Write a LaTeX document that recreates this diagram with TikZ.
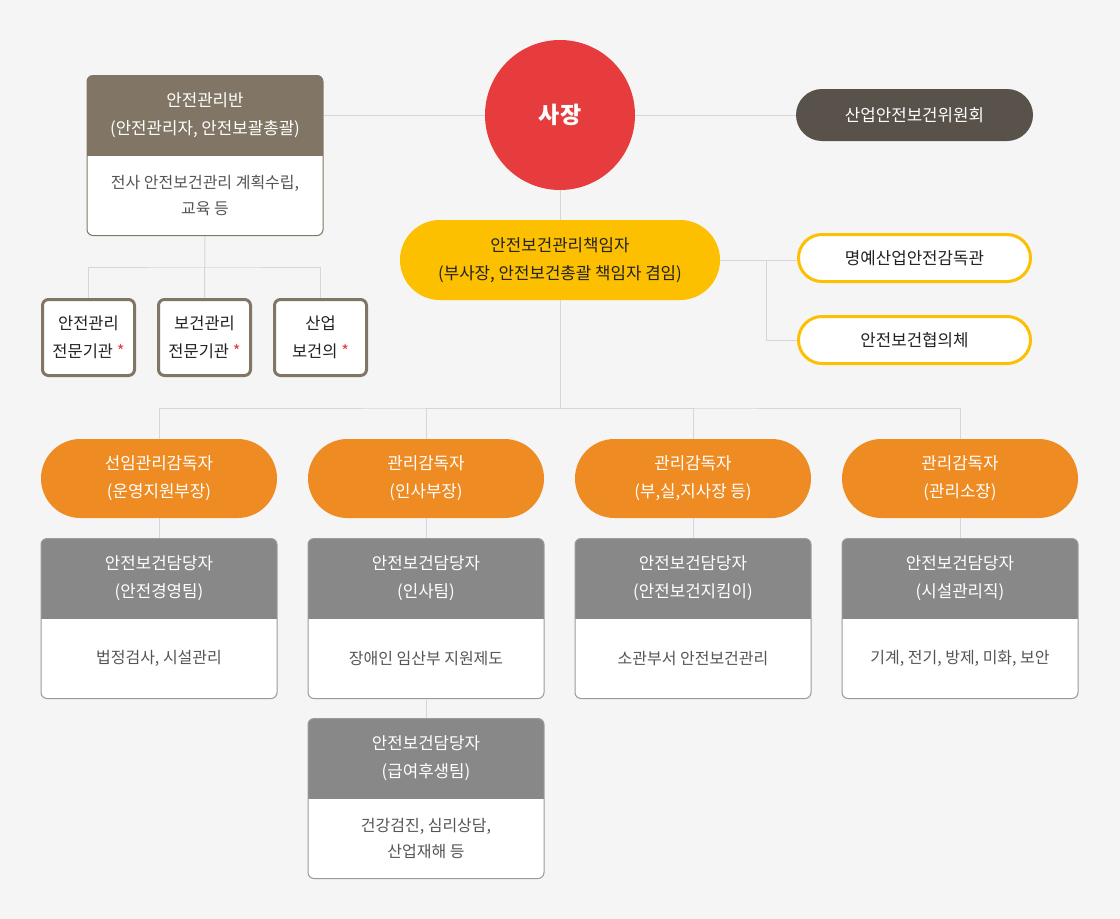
\documentclass[tikz,border=0pt]{standalone}
\usepackage{fontspec}
\setmainfont{Noto Sans CJK KR}
\usetikzlibrary{shapes.misc}
\definecolor{cbg}{HTML}{F5F5F5}
\definecolor{cred}{HTML}{E63C3D}
\definecolor{cbrown}{HTML}{817665}
\definecolor{cdark}{HTML}{58524A}
\definecolor{cyellow}{HTML}{FCC000}
\definecolor{corange}{HTML}{EE8B22}
\definecolor{cgrey}{HTML}{888888}
\definecolor{cline}{HTML}{D6D6D6}
\definecolor{ctext}{HTML}{555555}
\definecolor{cink}{HTML}{222222}

\begin{document}
\begin{tikzpicture}[x=1pt, y=-1pt,
  link/.style={draw=cline, line width=1pt},
  card/.style={rectangle, rounded corners=6pt, fill=white, line width=1pt,
    minimum width=236pt, minimum height=160pt, inner sep=0pt,
    path picture={\fill[#1, sharp corners] (path picture bounding box.north west) rectangle ([yshift=-80pt]path picture bounding box.north east);}},
  hdr/.style={text=white, align=center, font=\fontsize{16.8}{28}\selectfont},
  body/.style={text=ctext, align=center, font=\fontsize{16}{26}\selectfont},
  pill/.style={rounded rectangle, inner sep=0pt, align=center, font=\fontsize{16.8}{28}\selectfont},
  org/.style={rectangle, rounded corners=6pt, draw=cbrown, line width=3pt, fill=white,
    minimum width=92pt, minimum height=76pt, inner sep=0pt, align=center, text=cink,
    font=\fontsize{16.5}{28}\selectfont}]

  \fill [cbg] (0, 0) rectangle (1120, 919);

  % top row
  \node [card=cbrown, draw=cbrown] (safe) at (205, 155.5) {};
  \node [hdr] (safehdr) at ([yshift=40pt]safe.center) {안전관리반\\(안전관리자, 안전보괄총괄)};
  \node [body] (safetxt) at ([yshift=-40pt]safe.center) {전사 안전보건관리 계획수립,\\교육 등};

  \node [circle, fill=cred, minimum size=150pt, inner sep=0pt, text=white,
    font=\fontsize{23}{26}\selectfont\bfseries] (ceo) at (560, 115) {사장};

  \node [pill, fill=cdark, text=white, minimum width=237pt, minimum height=52pt] (cmte) at (914.5, 115) {산업안전보건위원회};

  % second row
  \node [pill, fill=cyellow, text=cink, minimum width=320pt, minimum height=80pt] (mgr) at (560, 260) {안전보건관리책임자\\(부사장, 안전보건총괄 책임자 겸임)};

  \node [pill, draw=cyellow, line width=3pt, fill=white, text=cink, minimum width=232pt, minimum height=47pt] (hon) at (914.5, 258) {명예산업안전감독관};
  \node [pill, draw=cyellow, line width=3pt, fill=white, text=cink, minimum width=232pt, minimum height=47pt] (council) at (914.5, 340) {안전보건협의체};

  \node [org] (org1) at (88.5, 337.5) {안전관리\\전문기관 {\color{cred}*}};
  \node [org] (org2) at (204.5, 337.5) {보건관리\\전문기관 {\color{cred}*}};
  \node [org] (org3) at (320.5, 337.5) {산업\\보건의 {\color{cred}*}};

  % supervisors
  \node [pill, fill=corange, text=white, minimum width=236pt, minimum height=79pt] (sup1) at (159, 478.5) {선임관리감독자\\(운영지원부장)};
  \node [pill, fill=corange, text=white, minimum width=236pt, minimum height=79pt] (sup2) at (426, 478.5) {관리감독자\\(인사부장)};
  \node [pill, fill=corange, text=white, minimum width=236pt, minimum height=79pt] (sup3) at (693, 478.5) {관리감독자\\(부,실,지사장 등)};
  \node [pill, fill=corange, text=white, minimum width=236pt, minimum height=79pt] (sup4) at (960, 478.5) {관리감독자\\(관리소장)};

  % staff cards
  \node [card=cgrey, draw=cgrey!85] (staff1) at (159, 618.5) {};
  \node [hdr] (staff1hdr) at ([yshift=40pt]staff1.center) {안전보건담당자\\(안전경영팀)};
  \node [body] (staff1txt) at ([yshift=-40pt]staff1.center) {법정검사, 시설관리};

  \node [card=cgrey, draw=cgrey!85] (staff2) at (426, 618.5) {};
  \node [hdr] (staff2hdr) at ([yshift=40pt]staff2.center) {안전보건담당자\\(인사팀)};
  \node [body] (staff2txt) at ([yshift=-40pt]staff2.center) {장애인 임산부 지원제도};

  \node [card=cgrey, draw=cgrey!85] (staff3) at (693, 618.5) {};
  \node [hdr] (staff3hdr) at ([yshift=40pt]staff3.center) {안전보건담당자\\(안전보건지킴이)};
  \node [body] (staff3txt) at ([yshift=-40pt]staff3.center) {소관부서 안전보건관리};

  \node [card=cgrey, draw=cgrey!85] (staff4) at (960, 618.5) {};
  \node [hdr] (staff4hdr) at ([yshift=40pt]staff4.center) {안전보건담당자\\(시설관리직)};
  \node [body] (staff4txt) at ([yshift=-40pt]staff4.center) {기계, 전기, 방제, 미화, 보안};

  \node [card=cgrey, draw=cgrey!85] (staff5) at (426, 798.5) {};
  \node [hdr] (staff5hdr) at ([yshift=40pt]staff5.center) {안전보건담당자\\(급여후생팀)};
  \node [body] (staff5txt) at ([yshift=-40pt]staff5.center) {건강검진, 심리상담,\\산업재해 등};

  % connectors
  \coordinate (lsplit) at (205, 267);
  \coordinate (rsplit) at (766, 260);
  \coordinate (bsplit) at (560, 408);

  \draw [link] (ceo.west -| safe.east) -- (ceo.west);
  \draw [link] (ceo.east) -- (cmte.west);
  \draw [link] (ceo.south) -- (mgr.north);
  \draw [link] (mgr.east) -- (mgr.east -| hon.west);
  \draw [link] (rsplit) |- (council.west);
  \draw [link] (safe.south) -- (org2.north);
  \draw [link] (org1.north) |- (lsplit) -| (org3.north);
  \draw [link] (mgr.south) -- (bsplit);
  \draw [link] (sup1.north) |- (bsplit) -| (sup4.north);
  \draw [link] (sup2.north) |- (bsplit);
  \draw [link] (sup3.north) |- (bsplit);
  \draw [link] (sup1.south) -- (staff1.north);
  \draw [link] (sup2.south) -- (staff2.north);
  \draw [link] (sup3.south) -- (staff3.north);
  \draw [link] (sup4.south) -- (staff4.north);
  \draw [link] (staff2.south) -- (staff5.north);

\end{tikzpicture}
\end{document}
